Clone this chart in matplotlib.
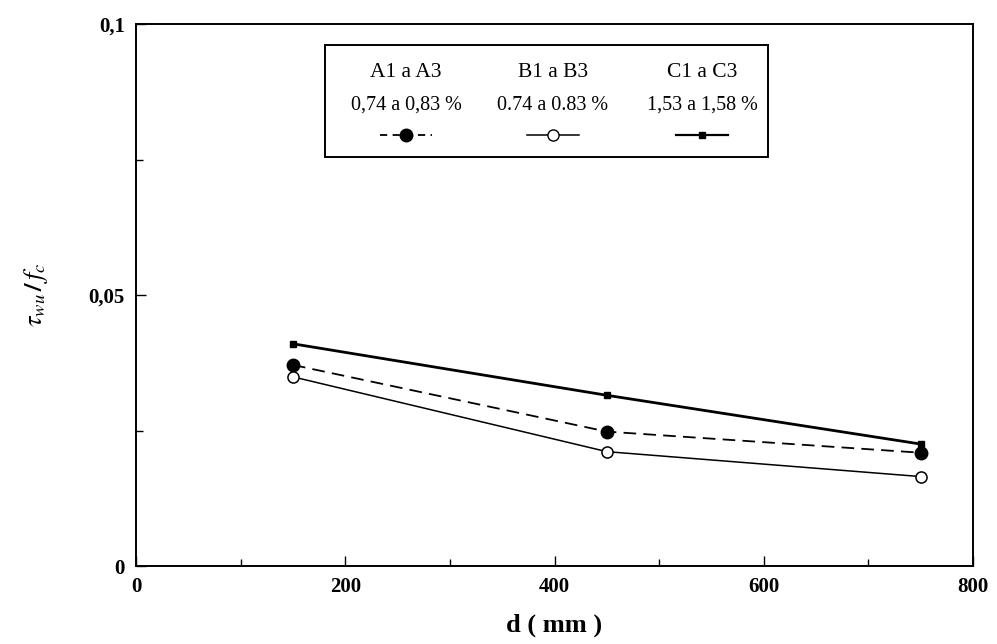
import matplotlib.pyplot as plt
from matplotlib.patches import Rectangle

plt.rcParams['font.family'] = ['Liberation Serif', 'DejaVu Serif']
plt.rcParams['mathtext.fontset'] = 'stix'

# donnees
d = [150, 450, 750]
serie_a = [0.0371, 0.0248, 0.0209]   # A1 a A3
serie_b = [0.0349, 0.0211, 0.0165]   # B1 a B3
serie_c = [0.0410, 0.0315, 0.0225]   # C1 a C3

titres = ['A1 a A3', 'B1 a B3', 'C1 a C3']
taux = ['0,74 a 0,83 %', '0.74 a 0.83 %', '1,53 a 1,58 %']

xticks = [0, 200, 400, 600, 800]
yticks = [0, 0.05, 0.1]
ylabels = ['0', '0,05', '0,1']

fig = plt.figure(figsize=(9.97, 6.44), dpi=100)
ax = fig.add_axes([0.1364, 0.1211, 0.976 - 0.1364, 0.9627 - 0.1211])

ax.plot(d, serie_a, 'k--', lw=1.3, marker='o', ms=9, mfc='k', dashes=(7, 4))
ax.plot(d, serie_b, 'k-', lw=1.1, marker='o', ms=8, mfc='white', mew=1.1)
ax.plot(d, serie_c, 'k-', lw=2.0, marker='s', ms=5, mfc='k')

ax.set_xlim(0, 800)
ax.set_ylim(0, 0.1)
ax.set_xticks(xticks)
ax.set_xticklabels([str(v) for v in xticks], fontsize=15, fontweight='bold')
ax.set_xticks(range(100, 800, 200), minor=True)
ax.set_yticks(yticks)
ax.set_yticklabels(ylabels, fontsize=15, fontweight='bold')
ax.set_yticks([0.025, 0.075], minor=True)
ax.tick_params(direction='in', length=7, width=1, pad=8)
ax.tick_params(which='minor', direction='in', length=5, width=1)
for s in ax.spines.values():
    s.set_linewidth(1.4)

ax.set_xlabel('d ( mm )', fontsize=19, fontweight='bold', labelpad=12)
ax.set_ylabel(r'$\boldsymbol{\tau_{wu}\,/\,f_c}$', fontsize=19, labelpad=28)

# legende dessinee a la main (3 colonnes)
def ax_x(px):
    return (px - 136) / (973 - 136)

def ax_y(py):
    return (566 - py) / (566 - 24)

ax.add_patch(Rectangle((ax_x(325), ax_y(157)), ax_x(768) - ax_x(325), ax_y(45) - ax_y(157),
                       transform=ax.transAxes, fill=False, lw=1.4, ec='k'))
centres = [406, 553, 702]
styles = [dict(ls='--', lw=1.3, marker='o', ms=9, mfc='k', dashes=(4, 3)),
          dict(ls='-', lw=1.1, marker='o', ms=8, mfc='white'),
          dict(ls='-', lw=1.6, marker='s', ms=5, mfc='k')]
for cx, t, p, st in zip(centres, titres, taux, styles):
    ax.text(ax_x(cx), ax_y(72), t, transform=ax.transAxes, ha='center', va='center', fontsize=15.5)
    ax.text(ax_x(cx), ax_y(105), p, transform=ax.transAxes, ha='center', va='center', fontsize=14.5)
    ax.plot([ax_x(cx - 26), ax_x(cx + 26)], [ax_y(135)] * 2, color='k', transform=ax.transAxes,
            markevery=[], **st)
    ax.plot([ax_x(cx)], [ax_y(135)], color='k', transform=ax.transAxes, ls='none',
            marker=st['marker'], ms=st['ms'], mfc=st['mfc'])

fig.savefig('out.png', dpi=100)
